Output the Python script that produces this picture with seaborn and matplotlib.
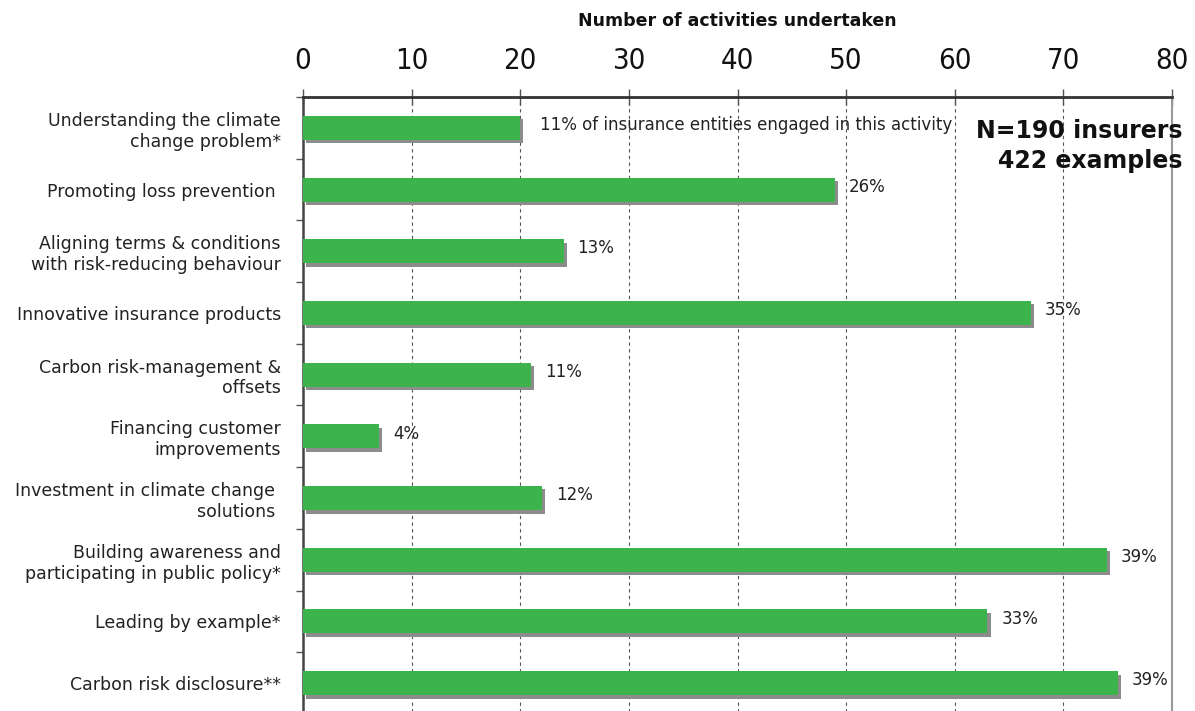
import matplotlib
matplotlib.use("Agg")
import matplotlib.pyplot as plt
import matplotlib.patheffects as pe
from matplotlib.ticker import FixedLocator
import seaborn as sns
import pandas as pd

categories = [
    "Understanding the climate\nchange problem*",
    "Promoting loss prevention ",
    "Aligning terms & conditions\nwith risk-reducing behaviour",
    "Innovative insurance products",
    "Carbon risk-management &\noffsets",
    "Financing customer\nimprovements",
    "Investment in climate change \nsolutions ",
    "Building awareness and\nparticipating in public policy*",
    "Leading by example*",
    "Carbon risk disclosure**",
]
counts = [20, 49, 24, 67, 21, 7, 22, 74, 63, 75]
shares = ["11%", "26%", "13%", "35%", "11%", "4%", "12%", "39%", "33%", "39%"]
x_ticks = [0, 10, 20, 30, 40, 50, 60, 70, 80]

df = pd.DataFrame({"activity": categories, "count": counts})

sns.set_style("white")
plt.rcParams["font.family"] = ["DejaVu Sans"]

fig = plt.figure(figsize=(11.95, 7.11), dpi=100)
ax = fig.add_axes([303 / 1195, 1 - 714 / 711, (1172 - 303) / 1195, (714 - 97) / 711])

sns.barplot(data=df, y="activity", x="count", orient="h", color="#3cb44b",
            saturation=1, width=0.39, ax=ax, edgecolor="none", linewidth=0)

for bar in ax.patches:
    bar.set_path_effects([
        pe.SimplePatchShadow(offset=(2.3, -2.5), shadow_rgbFace="#8c8c8c", alpha=1.0),
        pe.Normal(),
    ])
    bar.set_zorder(3)

ax.set_xlim(0, 80)
ax.set_ylim(9.5, -0.5)

# top axis
ax.xaxis.tick_top()
ax.xaxis.set_label_position("top")
ax.set_xticks(x_ticks)
ax.set_xticklabels([str(t) for t in x_ticks], fontsize=21, fontstretch="condensed", color="#111111")
ax.tick_params(axis="x", which="major", direction="inout", length=12, width=1.0,
               color="#555555", pad=10)
ax.set_xlabel("Number of activities undertaken", fontsize=12.5, fontweight="bold",
              labelpad=15, color="#111111")

# vertical dashed gridlines
ax.grid(axis="x", linestyle=(0, (3, 3)), color="#555555", linewidth=0.8, zorder=0)
ax.set_axisbelow(True)

# y axis: labels at bars, small ticks between bars
ax.set_ylabel("")
ax.tick_params(axis="y", which="major", length=0, pad=16, labelsize=12.5, labelcolor="#222222")
ax.yaxis.set_minor_locator(FixedLocator([i + 0.5 for i in range(-1, 10)]))
ax.tick_params(axis="y", which="minor", direction="out", length=5, width=1.0,
               color="#555555", left=True)
for lbl in ax.get_yticklabels():
    lbl.set_horizontalalignment("right")
    lbl.set_multialignment("right")

for side in ["top", "left", "right"]:
    ax.spines[side].set_visible(True)
ax.spines["bottom"].set_visible(False)
ax.spines["top"].set_linewidth(2.0)
ax.spines["top"].set_color("#333333")
ax.spines["left"].set_linewidth(1.8)
ax.spines["left"].set_color("#444444")
ax.spines["right"].set_linewidth(1.5)
ax.spines["right"].set_color("#999999")

# percentage annotations
for i, (c, s) in enumerate(zip(counts, shares)):
    txt = s
    off = 10
    if i == 0:
        txt = s + " of insurance entities engaged in this activity"
        off = 14
    ax.annotate(txt, xy=(c, i), xytext=(off, 2), textcoords="offset points",
                ha="left", va="center", fontsize=12, color="#222222", zorder=4)

fig.text(1183 / 1195, 1 - 131 / 711, "N=190 insurers", ha="right", va="center",
         fontsize=17, fontweight="bold", color="#111111")
fig.text(1183 / 1195, 1 - 161 / 711, "422 examples", ha="right", va="center",
         fontsize=17, fontweight="bold", color="#111111")

fig.savefig("out.png", dpi=100)
